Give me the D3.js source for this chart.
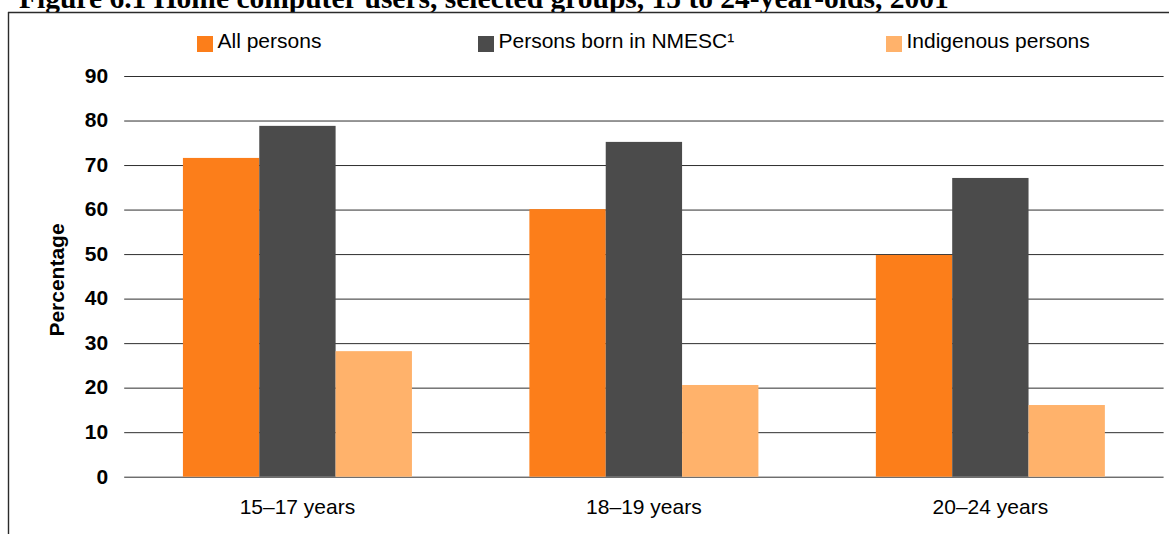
<!DOCTYPE html>
<html>
<head>
<meta charset="utf-8">
<script src="https://cdn.jsdelivr.net/npm/d3@7"></script>
<style>
  html, body { margin: 0; padding: 0; background: #fff; }
  svg { display: block; }
  text { font-family: "Liberation Sans", Arial, sans-serif; fill: #000; }
</style>
</head>
<body>
<svg id="chart" width="1169" height="534"></svg>
<script>
// Age groups along the x axis
const categories = ["15–17 years", "18–19 years", "20–24 years"];

// Series: percentage of each group using a home computer
const seriesNames = ["All persons", "Persons born in NMESC¹", "Indigenous persons"];
const allPersons = [71.6, 60.1, 49.8];
const nmescPersons = [78.8, 75.2, 67.1];
const indigenousPersons = [28.2, 20.6, 16.1];

// Y axis ticks
const yTicks = [0, 10, 20, 30, 40, 50, 60, 70, 80, 90];

const seriesColors = ["#FC7E1A", "#4B4B4B", "#FFB26B"];
const seriesValues = [allPersons, nmescPersons, indigenousPersons];

const svg = d3.select("#chart");

// Plot area
const plot = { left: 124.2, right: 1163.6, top: 76, bottom: 476.7 };

const x0 = d3.scaleBand()
  .domain(categories)
  .range([plot.left, plot.right])
  .paddingInner(0.339)
  .paddingOuter(0.1695);

const x1 = d3.scaleBand()
  .domain(d3.range(seriesNames.length))
  .range([0, x0.bandwidth()])
  .padding(0);

const y = d3.scaleLinear()
  .domain([0, 90])
  .range([plot.bottom, plot.top]);

// Title (runs above the frame's top edge)
svg.append("text")
  .attr("x", 19)
  .attr("y", 8)
  .style("font-family", "'Liberation Serif', 'Times New Roman', serif")
  .style("font-weight", "bold")
  .style("font-size", "29.5px")
  .text("Figure 6.1 Home computer users, selected groups, 15 to 24-year-olds, 2001");

// Frame around the chart
svg.append("rect").attr("x", 0).attr("y", 12.5).attr("width", 1169).attr("height", 534).attr("fill", "#fff");
svg.append("line")
  .attr("x1", 8).attr("x2", 1169).attr("y1", 12.5).attr("y2", 12.5)
  .attr("stroke", "#2b2b2b").attr("stroke-width", 1.6);
svg.append("line")
  .attr("x1", 8.5).attr("x2", 8.5).attr("y1", 12).attr("y2", 534)
  .attr("stroke", "#2b2b2b").attr("stroke-width", 1.4);

// Y axis with gridlines
const yAxis = d3.axisLeft(y)
  .tickValues(yTicks)
  .tickSizeInner(-(plot.right - plot.left))
  .tickSizeOuter(0)
  .tickPadding(16)
  .tickFormat(d3.format("d"));

const gy = svg.append("g")
  .attr("transform", `translate(${plot.left},0)`)
  .call(yAxis);
gy.select(".domain").remove();
gy.selectAll(".tick line").attr("stroke", "#2e2e2e").attr("stroke-width", 1);
gy.selectAll(".tick text")
  .style("font-family", "'Liberation Sans', Arial, sans-serif")
  .style("font-size", "21px")
  .style("font-weight", "bold")
  .attr("fill", "#000")
  .attr("dy", "0.3em");

// Bars
const groups = svg.append("g")
  .selectAll("g")
  .data(categories)
  .join("g")
  .attr("transform", d => `translate(${x0(d)},0)`);

groups.selectAll("rect")
  .data((d, i) => seriesValues.map((vals, s) => ({ s, v: vals[i] })))
  .join("rect")
  .attr("x", d => x1(d.s))
  .attr("y", d => y(d.v))
  .attr("width", x1.bandwidth())
  .attr("height", d => y(0) - y(d.v))
  .attr("fill", d => seriesColors[d.s]);

// X axis labels
const xAxis = d3.axisBottom(x0).tickSize(0).tickPadding(22.5);
const gx = svg.append("g")
  .attr("transform", `translate(0,${plot.bottom})`)
  .call(xAxis);
gx.select(".domain").remove();
gx.selectAll(".tick text")
  .style("font-family", "'Liberation Sans', Arial, sans-serif")
  .style("font-size", "21px")
  .attr("fill", "#000");

// Y axis title
svg.append("text")
  .attr("transform", "translate(63.5,280) rotate(-90)")
  .attr("text-anchor", "middle")
  .style("font-size", "21px")
  .style("font-weight", "bold")
  .text("Percentage");

// Legend
const legendX = [197, 478, 886];
const legend = svg.append("g")
  .selectAll("g")
  .data(seriesNames)
  .join("g")
  .attr("transform", (d, i) => `translate(${legendX[i]},0)`);
legend.append("rect")
  .attr("x", 0).attr("y", 36)
  .attr("width", 16).attr("height", 16)
  .attr("fill", (d, i) => seriesColors[i]);
legend.append("text")
  .attr("x", 20.5).attr("y", 47.7)
  .style("font-size", "21px")
  .text(d => d);
</script>
</body>
</html>
